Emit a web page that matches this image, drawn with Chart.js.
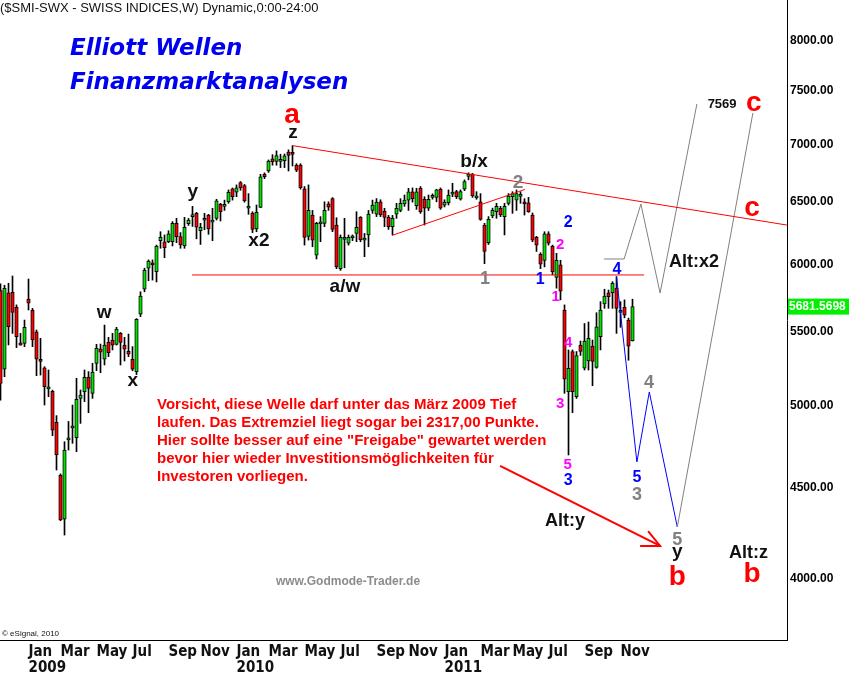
<!DOCTYPE html>
<html>
<head>
<meta charset="utf-8">
<script src="https://cdn.jsdelivr.net/npm/chart.js@4"></script>
<style>
  html, body { margin: 0; padding: 0; background: #fff; }
  canvas { display: block; }
</style>
</head>
<body>
<canvas id="chart" width="850" height="673"></canvas>
<script>
// weekly SMI bars; week 0 = week of 5 Jan 2009, first bar is 7 weeks earlier
const firstWeek = -7;

const opens = [
  5800, 5241, 5784, 5787, 5676, 5422, 5419, 5736, 5655, 5499,
  5300, 5250, 5110, 5094, 4895, 4572, 4320, 4785, 4860, 4799,
  5048, 5092, 5189, 5081, 5281, 5381, 5309, 5426, 5442, 5412,
  5489, 5407, 5364, 5309, 5225, 5626, 5810, 5969, 6000, 5943,
  6185, 6177, 6177, 6177, 6325, 6217, 6143, 6322, 6380, 6407,
  6265, 6350, 6393, 6335, 6366, 6482, 6465, 6503, 6612, 6583,
  6665, 6640, 6450, 6407, 6279, 6457, 6737, 6766, 6872, 6850,
  6850, 6857, 6934, 6920, 6817, 6817, 6612, 6219, 6393, 6070,
  6320, 6325, 6485, 6529, 6311, 5966, 6195, 6165, 6208, 6243,
  6374, 6190, 6231, 6431, 6400, 6503, 6425, 6374, 6298, 6401,
  6431, 6486, 6517, 6588, 6470, 6617, 6524, 6449, 6540, 6540,
  6609, 6475, 6495, 6568, 6590, 6524, 6609, 6720, 6740, 6536,
  6503, 6311, 6170, 6385, 6421, 6449, 6380, 6490, 6546, 6517,
  6548, 6495, 6495, 6393, 6212, 6077, 6030, 6239, 6143, 5899,
  5995, 5657, 5092, 5362, 5059, 5407, 5248, 5297, 5400, 5254,
  5466, 5702, 5784, 5784, 5818, 5640, 5676, 5584, 5438
];
const highs = [
  5850, 5840, 5855, 5910, 5694, 5489, 5584, 5887, 5669, 5513,
  5454, 5258, 5236, 5102, 4937, 4580, 4774, 4900, 5005, 5180,
  5103, 5236, 5225, 5281, 5412, 5414, 5548, 5461, 5489, 5532,
  5495, 5461, 5484, 5396, 5594, 5791, 5970, 6034, 6034, 6150,
  6257, 6231, 6265, 6339, 6366, 6250, 6374, 6365, 6465, 6415,
  6325, 6407, 6399, 6449, 6524, 6490, 6517, 6603, 6620, 6646,
  6675, 6650, 6572, 6420, 6476, 6737, 6750, 6863, 6910, 6944,
  6914, 6916, 6953, 6991, 6830, 6830, 6632, 6646, 6431, 6333,
  6380, 6503, 6503, 6538, 6371, 6231, 6366, 6231, 6231, 6420,
  6380, 6243, 6431, 6517, 6530, 6520, 6449, 6390, 6390, 6490,
  6529, 6560, 6617, 6620, 6617, 6632, 6546, 6560, 6570, 6609,
  6620, 6520, 6603, 6660, 6600, 6603, 6689, 6750, 6745, 6588,
  6572, 6325, 6380, 6450, 6490, 6465, 6490, 6572, 6588, 6603,
  6588, 6529, 6540, 6410, 6220, 6090, 6257, 6257, 6150, 6085,
  6031, 5694, 5373, 5373, 5362, 5435, 5559, 5570, 5442, 5637,
  5718, 5810, 5804, 5867, 5905, 5718, 5731, 5598, 5736
];
const lows = [
  5037, 5191, 5408, 5489, 5389, 5406, 5396, 5657, 5396, 5198,
  5202, 5005, 5059, 4811, 4603, 4312, 4233, 4723, 4764, 4713,
  4888, 5027, 4956, 5048, 5231, 5218, 5270, 5327, 5373, 5407,
  5270, 5297, 5327, 5231, 5205, 5609, 5791, 5874, 5879, 5865,
  6125, 6051, 6169, 6143, 6169, 6125, 6125, 6308, 6300, 6200,
  6155, 6273, 6236, 6185, 6352, 6344, 6431, 6490, 6517, 6546,
  6600, 6500, 6399, 6250, 6257, 6454, 6700, 6754, 6817, 6817,
  6796, 6796, 6766, 6810, 6760, 6610, 6150, 6190, 6137, 6041,
  6177, 6298, 6431, 6257, 5966, 5953, 5973, 6150, 6185, 6177,
  6177, 6059, 6137, 6407, 6380, 6380, 6298, 6276, 6231, 6366,
  6420, 6465, 6431, 6500, 6440, 6407, 6311, 6430, 6525, 6503,
  6440, 6460, 6476, 6546, 6530, 6517, 6597, 6689, 6540, 6524,
  6350, 6005, 6155, 6370, 6366, 6380, 6231, 6476, 6407, 6431,
  6490, 6393, 6415, 6177, 6100, 5966, 5980, 6150, 5919, 5818,
  5731, 5081, 4693, 4956, 5048, 5335, 5236, 5236, 5131, 5248,
  5373, 5669, 5669, 5669, 5489, 5532, 5600, 5302, 5435
];
const closes = [
  5147, 5817, 5536, 5640, 5466, 5406, 5532, 5706, 5442, 5309,
  5294, 5124, 5124, 4846, 4693, 4316, 4723, 4792, 4870, 5042,
  5070, 5187, 5113, 5222, 5384, 5357, 5406, 5355, 5407, 5520,
  5426, 5378, 5343, 5241, 5590, 5760, 5956, 6025, 5995, 6143,
  6212, 6130, 6239, 6325, 6217, 6151, 6293, 6352, 6392, 6293,
  6293, 6360, 6279, 6342, 6510, 6421, 6472, 6583, 6546, 6622,
  6620, 6510, 6458, 6276, 6415, 6716, 6716, 6854, 6848, 6901,
  6857, 6899, 6904, 6912, 6774, 6622, 6212, 6431, 6190, 6325,
  6328, 6431, 6458, 6276, 5980, 6212, 6205, 6212, 6215, 6293,
  6194, 6198, 6401, 6476, 6500, 6393, 6374, 6298, 6366, 6449,
  6490, 6517, 6588, 6530, 6588, 6421, 6449, 6524, 6550, 6603,
  6449, 6500, 6560, 6575, 6546, 6590, 6675, 6740, 6552, 6542,
  6357, 6100, 6357, 6431, 6465, 6393, 6465, 6552, 6572, 6572,
  6556, 6485, 6421, 6190, 6150, 6000, 6239, 6165, 5943, 6031,
  5795, 5174, 5248, 5092, 5335, 5362, 5435, 5454, 5294, 5536,
  5657, 5760, 5755, 5855, 5669, 5648, 5620, 5400, 5681.57
];
const lastPrice = '5681.5698';

// first bar of each labelled month (week index)
const monthWeeks = [0, 8, 17, 26, 35, 43, 52, 60, 69, 78, 87, 95, 104, 113, 121, 130, 139, 148];
const monthLabels = [['Jan', '2009'], 'Mar', 'May', 'Jul', 'Sep', 'Nov',
                     ['Jan', '2010'], 'Mar', 'May', 'Jul', 'Sep', 'Nov',
                     ['Jan', '2011'], 'Mar', 'May', 'Jul', 'Sep', 'Nov'];
const priceTicks = [4000, 4500, 5000, 5500, 6000, 6500, 7000, 7500, 8000];

// drawn trend lines and projections, as [week, price] points
const resistLine = [[66, 6991], [189.6, 6311]];
const neckLine = [[40.9, 5918], [153.9, 5918]];
const wedgeLine = [[90.95, 6228], [124.1, 6607]];
const altX2Path = [[143.9, 6041], [148.9, 6041], [153.1, 6484], [157.9, 5782], [167.1, 7376]];
const bluePath = [[147, 5905], [152.1, 4651], [155.2, 5090], [162.2, 4277]];
const altZPath = [[162.2, 4277], [181.1, 7291]];
const arrowLine = [[117.9, 4627], [157.9, 4174]];
const arrowHead = [[154.9, 4255], [157.9, 4174], [152.9, 4174]];

// wave labels: text, week, price, colour, size
const waveLabels = [
  ['a', 65.9, 7272, '#ff0000', 28],
  ['z', 66.1, 7106, '#111', 19],
  ['y', 41.1, 6586, '#111', 19],
  ['x2', 57.6, 6183, '#111', 19],
  ['w', 18.9, 5635, '#111', 19],
  ['x', 26.1, 5162, '#111', 19],
  ['a/w', 79.1, 5827, '#111', 19],
  ['b/x', 111.4, 6845, '#111', 19],
  ['2', 122.4, 6662, '#808080', 19],
  ['1', 114.1, 5887, '#808080', 18],
  ['2', 134.9, 6328, '#0000ff', 16],
  ['1', 127.9, 5880, '#0000ff', 16],
  ['2', 132.9, 6151, '#ff00ff', 15],
  ['1', 131.8, 5752, '#ff00ff', 15],
  ['4', 134.9, 5421, '#ff00ff', 15],
  ['3', 132.9, 5012, '#ff00ff', 15],
  ['5', 134.8, 4633, '#ff00ff', 15],
  ['3', 134.9, 4538, '#0000ff', 16],
  ['4', 147.1, 5956, '#0000ff', 16],
  ['5', 152.1, 4556, '#0000ff', 16],
  ['3', 152.1, 4457, '#808080', 18],
  ['4', 155.1, 5149, '#808080', 18],
  ['5', 162.2, 4206, '#808080', 18],
  ['y', 162.2, 4142, '#111', 19],
  ['b', 162.2, 4010, '#ff0000', 28],
  ['Alt:y', 134.1, 4310, '#111', 18],
  ['Alt:x2', 166.4, 6018, '#111', 18],
  ['7569', 173.4, 7376, '#111', 13],
  ['c', 181.3, 7386, '#ff0000', 28],
  ['c', 180.9, 6451, '#ff0000', 28],
  ['Alt:z', 180.0, 4136, '#111', 18],
  ['b', 180.9, 4026, '#ff0000', 28]
];

const noteLines = [
  'Vorsicht, diese Welle darf unter das März 2009 Tief',
  'laufen. Das Extremziel liegt sogar bei 2317,00 Punkte.',
  'Hier sollte besser auf eine "Freigabe" gewartet werden',
  'bevor hier wieder Investitionsmöglichkeiten für',
  'Investoren vorliegen.'
];

const SANS = '"Liberation Sans", Arial, sans-serif';

const weeks = opens.map((_, i) => firstWeek + i);
const wickData = weeks.map((w, i) => ({ x: w, y: [lows[i], highs[i]] }));
const bodyData = weeks.map((w, i) => ({ x: w, y: [opens[i], closes[i]] }));
const bodyColors = weeks.map((_, i) => closes[i] >= opens[i] ? '#00e400' : '#ff0000');

const toXY = pts => pts.map(([x, y]) => ({ x, y }));
function lineSet(pts, color, width) {
  return {
    type: 'line', data: toXY(pts), borderColor: color, borderWidth: width,
    pointRadius: 0, fill: false, tension: 0, order: 0
  };
}

const textPlugin = {
  id: 'texts',
  afterDatasetsDraw(chart) {
    const { ctx, scales: { x, y } } = chart;
    ctx.save();
    ctx.textAlign = 'center';
    ctx.textBaseline = 'middle';
    waveLabels.forEach(([t, w, p, color, size]) => {
      ctx.font = 'bold ' + size + 'px ' + SANS;
      ctx.fillStyle = color;
      ctx.fillText(t, x.getPixelForValue(w), y.getPixelForValue(p));
    });
    ctx.restore();
  },
  afterDraw(chart) {
    const { ctx, chartArea: a } = chart;
    ctx.save();
    ctx.textBaseline = 'middle';
    ctx.textAlign = 'left';

    ctx.font = '13px ' + SANS;
    ctx.fillStyle = '#111';
    ctx.fillText('($SMI-SWX - SWISS INDICES,W) Dynamic,0:00-24:00', a.left, 8);

    ctx.font = 'bold oblique 23px "DejaVu Sans", sans-serif';
    ctx.fillStyle = '#0000f0';
    ctx.fillText('Elliott Wellen', a.left + 70, 49);
    ctx.fillText('Finanzmarktanalysen', a.left + 70, 83);

    ctx.font = 'bold 15px ' + SANS;
    ctx.fillStyle = '#ff0000';
    noteLines.forEach((t, i) => ctx.fillText(t, a.left + 157, 405 + i * 17.9));

    ctx.font = 'bold 12px ' + SANS;
    ctx.fillStyle = '#8c8c8c';
    ctx.textAlign = 'center';
    ctx.fillText('www.Godmode-Trader.de', a.left + 348, 582);

    ctx.textAlign = 'left';
    ctx.font = '8px ' + SANS;
    ctx.fillStyle = '#111';
    ctx.fillText('\u00a9 eSignal, 2010', a.left + 2, a.bottom - 6);

    // last price box on the price axis
    const py = chart.scales.y.getPixelForValue(closes[closes.length - 1]);
    ctx.fillStyle = '#00f000';
    ctx.fillRect(a.right + 1, py - 8, 61, 16);
    ctx.font = 'bold 12px ' + SANS;
    ctx.fillStyle = '#ffffff';
    ctx.fillText(lastPrice, a.right + 2, py);
    ctx.restore();
  }
};

new Chart(document.getElementById('chart').getContext('2d'), {
  type: 'bar',
  data: {
    datasets: [
      lineSet(resistLine, '#ff0000', 1),
      lineSet(neckLine, '#ff0000', 1),
      lineSet(wedgeLine, '#ff0000', 1),
      lineSet(altX2Path, '#808080', 1),
      lineSet(altZPath, '#808080', 1),
      lineSet(bluePath, '#0000ff', 1),
      lineSet(arrowLine, '#ff0000', 2),
      lineSet(arrowHead, '#ff0000', 2),
      {
        data: bodyData, backgroundColor: bodyColors, borderColor: '#000', borderWidth: 1,
        borderSkipped: false, barThickness: 3.5, minBarLength: 2, grouped: false, order: 1
      },
      {
        data: wickData, backgroundColor: '#000', borderWidth: 0,
        barThickness: 1, grouped: false, order: 2
      }
    ]
  },
  options: {
    responsive: false,
    animation: false,
    devicePixelRatio: 1,
    layout: { padding: 0 },
    plugins: { legend: { display: false }, tooltip: { enabled: false } },
    scales: {
      x: {
        type: 'linear',
        min: -7.125,
        max: 189.625,
        offset: false,
        grid: { display: false, drawTicks: false, offset: false },
        border: { display: true, color: '#000', width: 1 },
        afterBuildTicks: s => { s.ticks = monthWeeks.map(v => ({ value: v })); },
        afterFit: s => { s.height = 33; s.paddingLeft = 0; s.paddingRight = 0; },
        ticks: {
          autoSkip: false, maxRotation: 0, minRotation: 0, align: 'start', padding: 4,
          color: '#111',
          font: { family: '"Liberation Sans Narrow", "DejaVu Sans Condensed", Arial', size: 15, weight: 'bold', lineHeight: 1.07 },
          callback: (v, i) => monthLabels[i]
        }
      },
      y: {
        type: 'logarithmic',
        position: 'right',
        min: 3697.7,
        max: 8433.6,
        grid: { display: false, drawTicks: false },
        border: { display: true, color: '#000', width: 1 },
        afterBuildTicks: s => { s.ticks = priceTicks.map(v => ({ value: v })); },
        afterFit: s => { s.width = 63; s.paddingTop = 0; s.paddingBottom = 0; },
        ticks: {
          padding: 3, color: '#000',
          font: { family: SANS, size: 12, weight: 'bold' },
          callback: v => Number(v).toFixed(2)
        }
      }
    }
  },
  plugins: [textPlugin]
});
</script>
</body>
</html>
